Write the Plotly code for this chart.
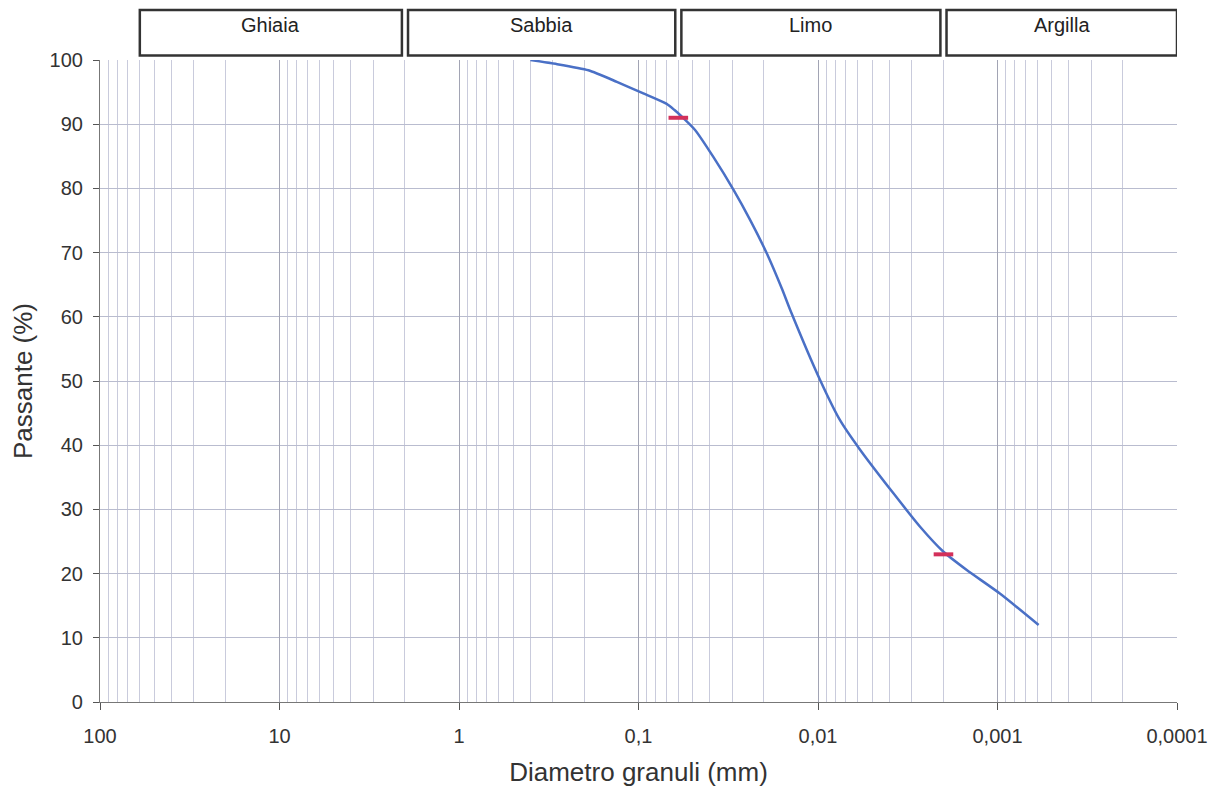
import numpy as np
import plotly.graph_objects as go

# Grain-size distribution: diameter (mm) vs percent passing
diametro_mm = [0.40, 0.29, 0.19, 0.132, 0.094, 0.070, 0.063, 0.0575, 0.0484,
               0.0383, 0.0296, 0.0239, 0.0193, 0.0159, 0.0143, 0.00975,
               0.00754, 0.00583, 0.0038, 0.0027, 0.0020, 0.00149, 0.00097,
               0.00059]
passante = [100, 99.4, 98.4, 96.6, 94.8, 93.2, 92.2, 91.2, 89.1,
            84.9, 79.8, 75.1, 69.9, 64.4, 61.1, 50.2,
            43.9, 39.3, 32.5, 27.3, 23.4, 20.6, 16.9,
            12.0]

# Values at the class limits (sand/silt and silt/clay)
limiti_d = [0.06, 0.002]
limiti_p = [91, 23]

# Soil classes and their diameter limits (mm)
classi = ["Ghiaia", "Sabbia", "Limo", "Argilla"]
confini = [60, 2, 0.06, 0.002, 0.0001]

# Axis ticks
decadi = [100, 10, 1, 0.1, 0.01, 0.001, 0.0001]
decadi_txt = ["100", "10", "1", "0,1", "0,01", "0,001", "0,0001"]
minori = [m * 10.0 ** e for e in range(-4, 2) for m in range(1, 10)] + [100]

FONT = "Liberation Sans, Arial, sans-serif"
BLU = "#4a70c6"
ROSSO = "#d3305a"
TESTO = "#333333"

fig = go.Figure()

fig.add_trace(go.Scatter(
    x=diametro_mm, y=passante, mode="lines",
    line=dict(color=BLU, width=2.5, shape="spline", smoothing=0.6),
    showlegend=False, hoverinfo="x+y",
))

fig.add_trace(go.Scatter(
    x=limiti_d, y=limiti_p, mode="markers", xaxis="x2",
    marker=dict(symbol="line-ew", size=14, line=dict(color=ROSSO, width=4)),
    showlegend=False,
))

# Class boxes above the plot area (shape x in mm, annotation x in log10);
# the axis runs from coarse (left) to fine (right), so a box is shrunk by
# dividing its left limit and multiplying its right limit.
gap = 10 ** 0.017
for i, nome in enumerate(classi):
    d_a = confini[i] / (gap if i > 0 else 1)
    d_b = confini[i + 1] * (gap if i < len(classi) - 1 else 1)
    fig.add_shape(type="rect", xref="x", yref="paper",
                  x0=d_a, x1=d_b, y0=1.007, y1=1.078,
                  line=dict(color="#333333", width=2.5), fillcolor="white")
    fig.add_annotation(x=(np.log10(d_a) + np.log10(d_b)) / 2, y=1.055,
                       xref="x", yref="paper", text=nome, showarrow=False,
                       yanchor="middle",
                       font=dict(family=FONT, size=20, color="#222222"))

rng = [2, -4]
fig.update_layout(
    width=1222, height=789,
    margin=dict(l=100, r=45, t=60, b=87),
    paper_bgcolor="white", plot_bgcolor="white",
    font=dict(family=FONT, size=20, color=TESTO),
    xaxis=dict(
        type="log", range=rng, tickvals=minori, showticklabels=False,
        ticks="", showgrid=True, gridcolor="#c9cbdc", gridwidth=1,
        zeroline=False, showline=False, automargin=False,
    ),
    xaxis2=dict(
        type="log", range=rng, overlaying="x", side="bottom", anchor="y",
        tickvals=decadi, ticktext=decadi_txt, ticks="outside", ticklen=7,
        tickcolor="#555555", showgrid=True, gridcolor="#a2a4b4", gridwidth=1,
        showline=True, linecolor="#777777", linewidth=1.2,
        ticklabelstandoff=9, automargin=False,
        tickfont=dict(family=FONT, size=20, color=TESTO),
        title=dict(text="Diametro granuli (mm)", standoff=16,
                   font=dict(family=FONT, size=26, color=TESTO)),
    ),
    yaxis=dict(
        range=[0, 100], dtick=10, ticks="outside", ticklen=6,
        tickcolor="#555555", showgrid=True, gridcolor="#b9bccf", gridwidth=1,
        showline=True, linecolor="#777777", linewidth=1.2, zeroline=False,
        ticklabelstandoff=6, automargin=False,
        tickfont=dict(family=FONT, size=20, color=TESTO),
        title=dict(text="Passante (%)", standoff=9,
                   font=dict(family=FONT, size=26, color=TESTO)),
    ),
)

fig.write_html("out.html")
